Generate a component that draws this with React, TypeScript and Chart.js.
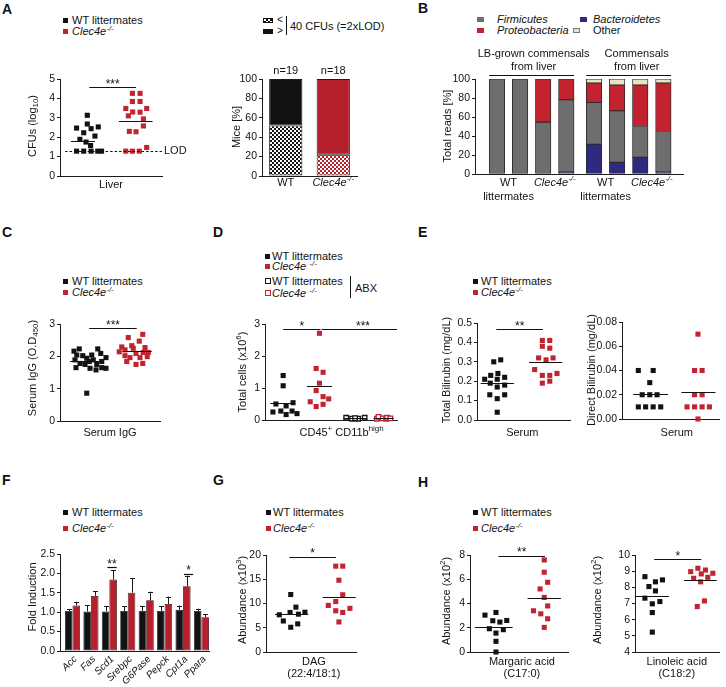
import React, { useEffect, useRef } from 'react';
import { Chart, registerables } from 'chart.js';

Chart.register(...registerables);

const FAMILY = "'Liberation Sans', Arial, Helvetica, sans-serif";
Chart.defaults.font.family = FAMILY;
Chart.defaults.color = '#121212';

const INK = '#121212';
const AX = '#1c1c1c';
const RED = '#c2232e';
const RED_BAR = '#b61f2c';
const GRAY = '#6e6e6e';
const NAVY = '#2d2a80';
const BEIGE = '#e9e2c4';

type Part = { t: string; i?: boolean; sup?: boolean; sub?: boolean };
type Pt = [number, number];
type Span = [number, number];

const KO: Part[] = [{ t: 'Clec4e', i: true }, { t: '-/-', i: true, sup: true }];
const KO_SP: Part[] = [{ t: 'Clec4e ', i: true }, { t: '-/-', i: true, sup: true }];
const WT: Part[] = [{ t: 'WT littermates' }];

// ---------------- DATA ----------------
// A (left): liver CFUs (log10)
const aWtCfu: Pt[] = [[1.07, 3.13], [1.07, 2.68], [0.65, 2.47], [1.5, 2.53], [1.22, 2.44], [0.93, 2.23], [1.37, 2.06], [0.78, 1.89], [1.02, 1.75], [1.2, 1.57], [0.65, 1.28], [0.93, 1.28], [1.22, 1.28], [1.48, 1.28], [1.63, 1.28]];
const aKoCfu: Pt[] = [[2.84, 4.26], [3.14, 4.26], [2.84, 3.84], [3.14, 3.84], [2.58, 3.48], [3.4, 3.48], [2.85, 3.3], [3.14, 3.29], [2.68, 3.1], [3.27, 2.94], [3.27, 2.58], [2.72, 2.3], [2.98, 2.28], [2.58, 1.28], [2.84, 1.28], [3.11, 1.28], [3.4, 1.47]];
const aMeanCfu = [1.8, 2.82];
const aMeanSpan: Span[] = [[0.43, 1.37], [2.31, 3.63]];
const aLod = 1.3;
const aLodSpan: Span = [0.2, 4];
const aSig = { x0: 1.15, x1: 2.98, y: 4.58, label: '***' };

// A (right): mice above/below 40 CFUs
const aMiceGroups = ['WT', 'Clec4e-/-'];
const aMiceBelow = [52, 22];
const aMiceAbove = [48, 78];
const aMiceN = ['n=19', 'n=18'];

// B: 16S phyla
const bSlots = [0.95, 1.95, 2.95, 3.95, 5.15, 6.15, 7.15, 8.15];
const bBacteroidetes = [0, 0, 0, 2, 31.3, 12.3, 17.6, 2.1];
const bFirmicutes = [100, 100, 54.6, 76.2, 44.1, 54.3, 32.4, 42.6];
const bProteobacteria = [0, 0, 45.4, 21.8, 20.4, 27.1, 43.7, 51.1];
const bOther = [0, 0, 0, 0, 4.2, 6.3, 6.3, 4.2];

// C: serum IgG
const cWtIgg: Pt[] = [[0.56, 2.16], [0.77, 2.23], [1.51, 2.23], [0.67, 2.04], [0.91, 2.02], [1.27, 2.04], [1.63, 2.09], [1.84, 1.96], [0.6, 1.89], [1.07, 1.94], [1.33, 1.89], [1.67, 1.84], [0.64, 1.65], [1.0, 1.75], [1.2, 1.63], [1.44, 1.58], [1.67, 1.65], [1.84, 1.63], [1.07, 0.86], [1.47, 1.75], [0.8, 1.78], [1.17, 1.84]];
const cKoIgg: Pt[] = [[2.73, 2.58], [3.31, 2.68], [3.17, 2.47], [2.87, 2.33], [2.37, 2.14], [2.6, 2.2], [2.93, 2.25], [3.4, 2.27], [3.04, 2.09], [3.33, 2.12], [3.53, 2.12], [2.6, 2.02], [3.2, 1.96], [3.49, 1.99], [2.67, 1.84], [3.04, 1.75], [3.31, 1.78], [2.8, 1.96], [2.47, 2.29]];
const cMeans = [1.86, 2.16];
const cMeanSpan: Span[] = [[0.4, 1.73], [2.5, 3.67]];
const cSig = { x0: 1.17, x1: 3.07, y: 2.87, label: '***' };

// D: CD45+ CD11b high cells
const dWt: Pt[] = [[0.55, 1.39], [0.55, 1.07], [0.33, 0.5], [0.64, 0.44], [0.85, 0.54], [0.24, 0.25], [0.48, 0.28], [0.64, 0.17], [0.82, 0.28], [0.97, 0.2]];
const dKo: Pt[] = [[1.65, 2.71], [1.55, 1.61], [1.76, 1.49], [1.65, 1.15], [1.55, 0.92], [1.76, 0.73], [1.93, 0.66], [1.37, 0.57], [1.76, 0.49], [1.55, 0.42]];
const dWtAbx: Pt[] = [[2.46, 0.07], [2.64, 0.04], [2.82, 0.04], [3.02, 0.07], [2.73, 0.06]];
const dKoAbx: Pt[] = [[3.39, 0.04], [3.44, 0.1], [3.57, 0.05], [3.67, 0.04], [3.7, 0.07], [3.8, 0.05]];
const dMeans = [0.52, 1.07, 0.05, 0.05];
const dMeanSpan: Span[] = [[0.16, 0.89], [1.27, 2.03], [2.38, 3.09], [3.29, 3.9]];
const dSigs = [{ x0: 0.55, x1: 1.68, y: 2.83, label: '*' }, { x0: 1.72, x1: 4.0, y: 2.83, label: '***', lx: 2.97 }];

// E: bilirubin
const eWtTot: Pt[] = [[0.72, 0.3], [1.02, 0.31], [0.59, 0.23], [0.9, 0.24], [1.19, 0.22], [0.33, 0.21], [0.87, 0.21], [0.57, 0.19], [1.19, 0.18], [0.87, 0.17], [0.55, 0.13], [1.19, 0.13], [0.87, 0.11], [0.87, 0.04]];
const eKoTot: Pt[] = [[2.81, 0.41], [3.13, 0.41], [2.81, 0.38], [3.13, 0.37], [2.65, 0.32], [2.97, 0.31], [3.27, 0.32], [2.48, 0.26], [2.81, 0.23], [3.13, 0.23], [3.44, 0.24], [2.81, 0.19], [3.13, 0.2]];
const eTotMeans = [0.19, 0.3];
const eTotSpan: Span[] = [[0.16, 1.59], [2.24, 3.67]];
const eTotSig = { x0: 0.83, x1: 2.84, y: 0.467, label: '**' };
const eWtDir: Pt[] = [[0.67, 0.04], [1.28, 0.04], [1.14, 0.03], [0.83, 0.02], [1.14, 0.02], [1.44, 0.02], [0.67, 0.01], [0.97, 0.01], [1.28, 0.01], [1.59, 0.01]];
const eKoDir: Pt[] = [[3.12, 0.07], [2.98, 0.04], [3.29, 0.04], [2.98, 0.02], [3.29, 0.02], [2.67, 0.01], [2.98, 0.01], [3.29, 0.01], [3.59, 0.01], [3.12, 0.0]];
const eDirMeans = [0.021, 0.0225];
const eDirSpan: Span[] = [[0.46, 1.89], [2.44, 3.84]];

// F: hepatic gene expression
const fGenes = ['Acc', 'Fas', 'Scd1', 'Srebpc', 'G6Pase', 'Pepck', 'Cpt1a', 'Ppara'];
const fWt = [1.03, 1.02, 1.02, 1.03, 1.03, 1.03, 1.06, 1.03];
const fWtErr = [0.05, 0.16, 0.14, 0.13, 0.13, 0.13, 0.11, 0.06];
const fKo = [1.17, 1.42, 1.84, 1.5, 1.31, 1.21, 1.67, 0.87];
const fKoErr = [0.1, 0.12, 0.25, 0.37, 0.22, 0.19, 0.27, 0.08];
const fSigs = [{ x0: 1.89, x1: 2.4, y: 2.16, label: '**' }, { x0: 6.05, x1: 6.55, y: 1.99, label: '*' }];

// G: DAG
const gWt: Pt[] = [[1.1, 11.85], [1.33, 9.25], [0.59, 7.67], [1.07, 8.15], [1.44, 7.8], [1.73, 8.2], [0.77, 6.4], [1.41, 5.8], [1.1, 5.1]];
const gKo: Pt[] = [[3.1, 17.7], [3.41, 17.7], [3.24, 14.8], [3.41, 11.8], [3.1, 10.4], [2.77, 9.6], [3.73, 9.0], [3.1, 8.5], [3.41, 8.15], [3.24, 6.2]];
const gMeans = [7.74, 11.4];
const gMeanSpan: Span[] = [[0.4, 1.88], [2.52, 3.99]];
const gSig = { x0: 1.04, x1: 3.11, y: 19.66, label: '*' };

// H: fatty acids
const hWtMar: Pt[] = [[0.61, 3.04], [1.06, 3.26], [0.93, 2.58], [1.5, 2.6], [1.22, 2.47], [0.79, 1.92], [1.36, 1.84], [1.06, 1.56], [1.06, 0.88], [1.06, 0.0]];
const hKoMar: Pt[] = [[3.03, 7.59], [3.03, 6.58], [3.17, 5.75], [2.86, 5.2], [3.03, 4.5], [3.17, 3.8], [2.59, 3.4], [2.89, 3.15], [3.17, 2.74], [3.03, 2.03]];
const hMarMeans = [2.03, 4.49];
const hMarSpan: Span[] = [[0.2, 1.74], [2.35, 3.71]];
const hMarSig = { x0: 1.16, x1: 3.06, y: 7.95, label: '**' };
const hWtLin: Pt[] = [[0.47, 8.66], [0.97, 8.34], [1.3, 8.46], [0.66, 8.05], [0.97, 7.78], [0.47, 7.33], [1.18, 7.12], [0.82, 6.98], [0.82, 6.44], [0.82, 5.23]];
const hKoLin: Pt[] = [[2.64, 8.97], [2.98, 9.18], [3.34, 9.07], [3.69, 8.87], [3.14, 8.83], [2.78, 8.56], [3.45, 8.62], [3.11, 8.34], [3.29, 7.16], [2.95, 6.81]];
const hLinMeans = [7.45, 8.44];
const hLinSpan: Span[] = [[0.05, 1.61], [2.32, 3.87]];
const hLinSig = { x0: 0.91, x1: 3.14, y: 9.75, label: '*' };

// ---------------- HELPERS ----------------
type Box = { x: number; y: number; w: number; h: number };
type Area = { x0: number; x1: number; top: number; bottom: number };

function drawRich(ctx: any, parts: Part[], x: number, y: number, size: number, align = 'center', rot = 0, color = INK) {
  ctx.save();
  ctx.translate(x, y);
  if (rot) ctx.rotate(rot);
  ctx.textBaseline = 'middle';
  ctx.textAlign = 'left';
  ctx.fillStyle = color;
  const font = (p: Part) => `${p.i ? 'italic ' : ''}${p.sup || p.sub ? (size * 0.72).toFixed(1) : size}px ${FAMILY}`;
  const widths = parts.map((p) => { ctx.font = font(p); return ctx.measureText(p.t).width; });
  const total = widths.reduce((a, b) => a + b, 0);
  let cx = align === 'center' ? -total / 2 : align === 'right' ? -total : 0;
  parts.forEach((p, k) => {
    ctx.font = font(p);
    const dy = p.sup ? -size * 0.38 : p.sub ? size * 0.3 : 0;
    ctx.fillText(p.t, cx, dy);
    cx += widths[k];
  });
  ctx.restore();
}

function hl(ctx: any, x0: number, x1: number, y: number) {
  const yy = Math.round(y) + 0.5;
  ctx.beginPath();
  ctx.moveTo(x0, yy);
  ctx.lineTo(x1, yy);
  ctx.stroke();
}

function decor(o: any) {
  return {
    id: 'decor',
    afterDatasetsDraw(chart: any) {
      const { ctx } = chart;
      const xs = chart.scales.x, ys = chart.scales.y;
      const X = (v: number) => xs.getPixelForValue(v);
      const Y = (v: number) => ys.getPixelForValue(v);
      ctx.save();
      ctx.strokeStyle = INK;
      ctx.lineWidth = 1;
      (o.means || []).forEach((m: any) => hl(ctx, X(m.span[0]), X(m.span[1]), Y(m.y)));
      (o.dashed || []).forEach((d: any) => {
        ctx.setLineDash([2.5, 2]);
        hl(ctx, X(d.span[0]), X(d.span[1]), Y(d.y));
        ctx.setLineDash([]);
        if (d.label) drawRich(ctx, [{ t: d.label }], X(d.span[1]) + 2, Y(d.y), 11, 'left');
      });
      (o.sigs || []).forEach((s: any) => {
        ctx.lineWidth = 1.2;
        hl(ctx, X(s.x0), X(s.x1), Y(s.y));
        ctx.fillStyle = INK;
        ctx.font = `12px ${FAMILY}`;
        ctx.textAlign = 'center';
        ctx.textBaseline = 'alphabetic';
        const lx = s.lx !== undefined ? s.lx : (s.x0 + s.x1) / 2;
        ctx.fillText(s.label, X(lx), Y(s.y) + 0.5);
      });
      if (o.extra) o.extra(chart, ctx, X, Y);
      ctx.restore();
    },
    afterDraw(chart: any) {
      const { ctx } = chart;
      const xs = chart.scales.x;
      (o.texts || []).forEach((t: any) => {
        const x = t.x !== undefined ? xs.getPixelForValue(t.x) : t.px - o.box.x;
        const y = t.py - o.box.y;
        drawRich(ctx, t.parts, x, y, t.size || 11, t.align || 'center', t.rot || 0);
      });
    },
  };
}

function layoutOf(box: Box, area: Area) {
  return { padding: { left: 0, top: area.top - box.y, right: box.x + box.w - area.x1, bottom: 0 } };
}

function yScale(box: Box, area: Area, min: number, max: number, step: number, digits: number, extra: any = {}) {
  return {
    type: 'linear', min, max,
    afterFit: (s: any) => { s.width = area.x0 - box.x; },
    ticks: { stepSize: step, autoSkip: false, padding: 2, color: INK, font: { size: 10.5 }, callback: (v: any) => Number(v).toFixed(digits) },
    grid: { display: true, drawOnChartArea: false, drawTicks: true, tickLength: 3, color: AX, lineWidth: 1 },
    border: { display: true, color: AX, width: 1 },
    ...extra,
  };
}

function xLinear(box: Box, area: Area, min: number, max: number, extra: any = {}) {
  return {
    type: 'linear', min, max, offset: false,
    afterFit: (s: any) => { s.height = box.y + box.h - area.bottom; },
    ticks: { display: false },
    grid: { display: false, offset: false },
    border: { display: true, color: AX, width: 1 },
    ...extra,
  };
}

const baseOptions = {
  animation: false,
  responsive: false,
  devicePixelRatio: 1,
  events: [],
};
const noLegend = { legend: { display: false }, tooltip: { enabled: false } };

const yTitle = (parts: Part[], px: number, py: number) => ({ parts, px, py, rot: -Math.PI / 2 });
const abund = (e: string): Part[] => [{ t: 'Abundance (x10' }, { t: e, sup: true }, { t: ')' }];

function scatterConfig(spec: any) {
  const { box, area } = spec;
  return {
    type: 'scatter',
    data: {
      datasets: spec.groups.map((g: any) => ({
        data: g.pts.map(([x, y]: Pt) => ({ x, y })),
        pointStyle: 'rect',
        pointRadius: g.open ? 3.2 : 3.6,
        pointHoverRadius: g.open ? 3.2 : 3.6,
        backgroundColor: g.open ? '#ffffff' : g.color,
        borderColor: g.color,
        borderWidth: g.open ? 1.3 : 0,
        showLine: false,
        clip: false,
      })),
    },
    options: {
      ...baseOptions,
      layout: layoutOf(box, area),
      plugins: noLegend,
      scales: {
        x: xLinear(box, area, 0, 4),
        y: yScale(box, area, spec.yMin, spec.yMax, spec.yStep, spec.digits),
      },
    },
    plugins: [decor(spec)],
  };
}

const mk = (vals: number[], spans: Span[]) => vals.map((y, i) => ({ y, span: spans[i] }));

function checker(c1: string, c2: string, cell = 2) {
  const cv = document.createElement('canvas');
  cv.width = cell * 2;
  cv.height = cell * 2;
  const g = cv.getContext('2d') as any;
  g.fillStyle = c2;
  g.fillRect(0, 0, cell * 2, cell * 2);
  g.fillStyle = c1;
  g.fillRect(0, 0, cell, cell);
  g.fillRect(cell, cell, cell, cell);
  const ctx = document.createElement('canvas').getContext('2d') as any;
  return ctx.createPattern(cv, 'repeat');
}

// ---------------- PANEL BUILDERS ----------------
const aLeftBox = { x: 15, y: 60, w: 185, h: 140 };
const aLeftArea = { x0: 60, x1: 162, top: 79, bottom: 176 };
const buildALeft = () => scatterConfig({
  box: aLeftBox, area: aLeftArea, yMin: 0, yMax: 5, yStep: 1, digits: 0,
  groups: [{ pts: aWtCfu, color: INK }, { pts: aKoCfu, color: RED }],
  means: mk(aMeanCfu, aMeanSpan),
  dashed: [{ y: aLod, span: aLodSpan, label: 'LOD' }],
  sigs: [aSig],
  texts: [{ parts: [{ t: 'Liver' }], x: 2, py: 185 }, yTitle([{ t: 'CFUs (log' }, { t: '10', sub: true }, { t: ')' }], 33, 126)],
});

const aRightBox = { x: 222, y: 60, w: 150, h: 140 };
const aRightArea = { x0: 262, x1: 357, top: 79, bottom: 176 };
const buildARight = () => {
  const box = aRightBox, area = aRightArea;
  const patBlack = checker('#111111', '#ffffff');
  const patRed = checker(RED_BAR, '#ffffff');
  return {
    type: 'bar',
    data: {
      labels: aMiceGroups,
      datasets: [
        { label: '< 40 CFUs', data: aMiceBelow, backgroundColor: [patBlack, patRed], borderColor: AX, borderWidth: 1, borderSkipped: false, stack: 's' },
        { label: '> 40 CFUs', data: aMiceAbove, backgroundColor: [INK, RED_BAR], borderColor: AX, borderWidth: 1, borderSkipped: false, stack: 's' },
      ],
    },
    options: {
      ...baseOptions,
      layout: layoutOf(box, area),
      plugins: noLegend,
      datasets: { bar: { categoryPercentage: 1, barPercentage: 0.7 } },
      scales: {
        x: { type: 'category', stacked: true, offset: true, afterFit: (s: any) => { s.height = box.y + box.h - area.bottom; }, ticks: { display: false }, grid: { display: false }, border: { display: true, color: AX, width: 1 } },
        y: yScale(box, area, 0, 100, 20, 0, { stacked: true }),
      },
    },
    plugins: [decor({
      box,
      extra: (chart: any, ctx: any, X: any, Y: any) => {
        aMiceN.forEach((n, i) => drawRich(ctx, [{ t: n }], X(i), Y(aMiceBelow[i] + aMiceAbove[i]) - 8, 11));
      },
      texts: [
        { parts: [{ t: 'WT' }], x: 0, py: 183 },
        { parts: KO, x: 1, py: 183 },
        yTitle([{ t: 'Mice [%]' }], 237, 127),
      ],
    })],
  };
};

const bBox = { x: 440, y: 45, w: 280, h: 165 };
const bArea = { x0: 475, x1: 683, top: 79, bottom: 174 };
const buildB = () => {
  const box = bBox, area = bArea;
  const ds = (label: string, vals: number[], color: string) => ({
    label,
    data: bSlots.map((x, i) => ({ x, y: vals[i] ? vals[i] : null })),
    backgroundColor: color, borderColor: '#2a2a2a', borderWidth: 0.9, borderSkipped: false,
    barThickness: 15.5, stack: 's',
  });
  const pairMid = (i: number) => (bSlots[i] + bSlots[i + 1]) / 2;
  const headers = [
    { lines: ['LB-grown commensals', 'from liver'], from: 0, to: 3, dx: 2 },
    { lines: ['Commensals', 'from liver'], from: 4, to: 7, dx: 8 },
  ];
  return {
    type: 'bar',
    data: {
      datasets: [
        ds('Bacteroidetes', bBacteroidetes, NAVY),
        ds('Firmicutes', bFirmicutes, GRAY),
        ds('Proteobacteria', bProteobacteria, RED),
        ds('Other', bOther, BEIGE),
      ],
    },
    options: {
      ...baseOptions,
      layout: layoutOf(box, area),
      plugins: noLegend,
      scales: {
        x: xLinear(box, area, 0, 9, { stacked: true }),
        y: yScale(box, area, 0, 100, 20, 0, { stacked: true }),
      },
    },
    plugins: [decor({
      box,
      extra: (chart: any, ctx: any) => {
        const meta = chart.getDatasetMeta(1);
        headers.forEach((h) => {
          const a = meta.data[h.from], b = meta.data[h.to];
          const l = a.x - a.width / 2, r = b.x + b.width / 2;
          ctx.lineWidth = 1.2;
          hl(ctx, l, r, 75 - box.y);
          drawRich(ctx, [{ t: h.lines[0] }], (l + r) / 2 + h.dx, 54 - box.y, 11);
          drawRich(ctx, [{ t: h.lines[1] }], (l + r) / 2 + h.dx, 67 - box.y, 11);
        });
      },
      texts: [
        { parts: [{ t: 'WT' }], x: pairMid(0), py: 183 },
        { parts: [{ t: 'littermates' }], x: pairMid(0), py: 197 },
        { parts: KO, x: pairMid(2), py: 183 },
        { parts: [{ t: 'WT' }], x: pairMid(4), py: 183 },
        { parts: [{ t: 'littermates' }], x: pairMid(4), py: 197 },
        { parts: KO, x: pairMid(6), py: 183 },
        yTitle([{ t: 'Total reads [%]' }], 448, 126),
      ],
    })],
  };
};

const buildC = () => scatterConfig({
  box: { x: 15, y: 300, w: 160, h: 145 }, area: { x0: 60, x1: 160, top: 324, bottom: 421 },
  yMin: 0, yMax: 3, yStep: 1, digits: 0,
  groups: [{ pts: cWtIgg, color: INK }, { pts: cKoIgg, color: RED }],
  means: mk(cMeans, cMeanSpan),
  sigs: [cSig],
  texts: [{ parts: [{ t: 'Serum IgG' }], x: 2, py: 433 }, yTitle([{ t: 'Serum IgG (O.D' }, { t: '450', sub: true }, { t: ')' }], 33, 368)],
});

const buildD = () => scatterConfig({
  box: { x: 235, y: 300, w: 175, h: 145 }, area: { x0: 265, x1: 397, top: 324, bottom: 420 },
  yMin: 0, yMax: 3, yStep: 1, digits: 0,
  groups: [{ pts: dWt, color: INK }, { pts: dKo, color: RED }, { pts: dWtAbx, color: INK, open: true }, { pts: dKoAbx, color: RED, open: true }],
  means: mk(dMeans, dMeanSpan),
  sigs: dSigs,
  texts: [
    { parts: [{ t: 'CD45' }, { t: '+', sup: true }, { t: ' CD11b' }, { t: 'high', sup: true }], x: 2.32, py: 433 },
    yTitle([{ t: 'Total cells (x10' }, { t: '6', sup: true }, { t: ')' }], 243, 372),
  ],
});

const buildELeft = () => scatterConfig({
  box: { x: 435, y: 300, w: 145, h: 145 }, area: { x0: 477, x1: 570, top: 323, bottom: 420 },
  yMin: 0, yMax: 0.5, yStep: 0.1, digits: 1,
  groups: [{ pts: eWtTot, color: INK }, { pts: eKoTot, color: RED }],
  means: mk(eTotMeans, eTotSpan),
  sigs: [eTotSig],
  texts: [{ parts: [{ t: 'Serum' }], x: 1.95, py: 433 }, yTitle([{ t: 'Total Bilirubin (mg/dL)' }], 447, 370)],
});

const buildERight = () => scatterConfig({
  box: { x: 585, y: 300, w: 138, h: 145 }, area: { x0: 622, x1: 720, top: 322, bottom: 419 },
  yMin: 0, yMax: 0.08, yStep: 0.02, digits: 2,
  groups: [{ pts: eWtDir, color: INK }, { pts: eKoDir, color: RED }],
  means: mk(eDirMeans, eDirSpan),
  texts: [{ parts: [{ t: 'Serum' }], x: 2.25, py: 433 }, yTitle([{ t: 'Direct Bilirubin (mg/dL)' }], 592, 370)],
});

const fBox = { x: 15, y: 540, w: 205, h: 145 };
const fArea = { x0: 60, x1: 209, top: 554, bottom: 651 };
const buildF = () => {
  const box = fBox, area = fArea;
  return {
    type: 'bar',
    data: {
      datasets: [
        { label: 'WT littermates', data: fWt.map((y, x) => ({ x, y })), backgroundColor: INK, borderColor: AX, borderWidth: 0.8, borderSkipped: false },
        { label: 'Clec4e-/-', data: fKo.map((y, x) => ({ x, y })), backgroundColor: RED_BAR, borderColor: '#3a0b10', borderWidth: 0.8, borderSkipped: false },
      ],
    },
    options: {
      ...baseOptions,
      layout: layoutOf(box, area),
      plugins: noLegend,
      datasets: { bar: { categoryPercentage: 0.82, barPercentage: 1 } },
      scales: {
        x: {
          type: 'linear', min: -0.68, max: 7.41, offset: false,
          afterBuildTicks: (s: any) => { s.ticks = fGenes.map((_, i) => ({ value: i })); },
          afterFit: (s: any) => { s.height = box.y + box.h - area.bottom; },
          ticks: { display: false },
          grid: { display: false },
          border: { display: true, color: AX, width: 1 },
        },
        y: yScale(box, area, 0, 2.5, 0.5, 1),
      },
    },
    plugins: [decor({
      box,
      sigs: fSigs,
      extra: (chart: any, ctx: any, X: any, Y: any) => {
        const errs = [fWtErr, fKoErr];
        const vals = [fWt, fKo];
        ctx.strokeStyle = '#1a1a1a';
        ctx.lineWidth = 1;
        [0, 1].forEach((d) => {
          chart.getDatasetMeta(d).data.forEach((el: any, i: number) => {
            const top = Y(vals[d][i] + errs[d][i]);
            const x = Math.round(el.x) + 0.5;
            ctx.beginPath();
            ctx.moveTo(x, el.y);
            ctx.lineTo(x, top);
            ctx.stroke();
            hl(ctx, x - 2.5, x + 2.5, top);
          });
        });
      },
      texts: [
        ...fGenes.map((g, i) => ({ parts: [{ t: g, i: true }], x: i + 0.17, py: 657.5, align: 'right', rot: -Math.PI / 4, size: 10 })),
        yTitle([{ t: 'Fold Induction' }], 33, 597),
      ],
    })],
  };
};

const buildG = () => scatterConfig({
  box: { x: 235, y: 540, w: 130, h: 145 }, area: { x0: 266, x1: 356, top: 555, bottom: 652 },
  yMin: 0, yMax: 20, yStep: 5, digits: 0,
  groups: [{ pts: gWt, color: INK }, { pts: gKo, color: RED }],
  means: mk(gMeans, gMeanSpan),
  sigs: [gSig],
  texts: [
    { parts: [{ t: 'DAG' }], x: 2.13, py: 662 },
    { parts: [{ t: '(22:4/18:1)' }], x: 2.13, py: 674 },
    yTitle(abund('3'), 243, 600),
  ],
});

const buildHLeft = () => scatterConfig({
  box: { x: 435, y: 540, w: 140, h: 145 }, area: { x0: 470, x1: 568, top: 555, bottom: 652 },
  yMin: 0, yMax: 8, yStep: 2, digits: 0,
  groups: [{ pts: hWtMar, color: INK }, { pts: hKoMar, color: RED }],
  means: mk(hMarMeans, hMarSpan),
  sigs: [hMarSig],
  texts: [
    { parts: [{ t: 'Margaric acid' }], x: 2.12, py: 662 },
    { parts: [{ t: '(C17:0)' }], x: 2.12, py: 674 },
    yTitle(abund('2'), 447, 601),
  ],
});

const buildHRight = () => scatterConfig({
  box: { x: 585, y: 540, w: 138, h: 145 }, area: { x0: 635, x1: 720, top: 555, bottom: 652 },
  yMin: 4, yMax: 10, yStep: 1, digits: 0,
  groups: [{ pts: hWtLin, color: INK }, { pts: hKoLin, color: RED }],
  means: mk(hLinMeans, hLinSpan),
  sigs: [hLinSig],
  texts: [
    { parts: [{ t: 'Linoleic acid' }], x: 1.98, py: 662 },
    { parts: [{ t: '(C18:2)' }], x: 1.98, py: 674 },
    yTitle(abund('2'), 598, 600),
  ],
});

const PANELS = [
  { key: 'aL', box: aLeftBox, build: buildALeft },
  { key: 'aR', box: aRightBox, build: buildARight },
  { key: 'b', box: bBox, build: buildB },
  { key: 'c', box: { x: 15, y: 300, w: 160, h: 145 }, build: buildC },
  { key: 'd', box: { x: 235, y: 300, w: 175, h: 145 }, build: buildD },
  { key: 'eL', box: { x: 435, y: 300, w: 145, h: 145 }, build: buildELeft },
  { key: 'eR', box: { x: 585, y: 300, w: 138, h: 145 }, build: buildERight },
  { key: 'f', box: fBox, build: buildF },
  { key: 'g', box: { x: 235, y: 540, w: 130, h: 145 }, build: buildG },
  { key: 'hL', box: { x: 435, y: 540, w: 140, h: 145 }, build: buildHLeft },
  { key: 'hR', box: { x: 585, y: 540, w: 138, h: 145 }, build: buildHRight },
];

// ---------------- COMPONENTS ----------------
function ChartBox({ box, build }: { box: Box; build: () => any }) {
  const ref = useRef<HTMLCanvasElement | null>(null);
  useEffect(() => {
    if (!ref.current) return;
    const chart = new Chart(ref.current, build());
    return () => chart.destroy();
  }, []);
  return <canvas ref={ref} width={box.w} height={box.h} style={{ position: 'absolute', left: box.x, top: box.y, width: box.w, height: box.h }} />;
}

function Rich({ parts }: { parts: Part[] }) {
  return (
    <>
      {parts.map((p, i) => (
        <span key={i} style={{
          fontStyle: p.i ? 'italic' : 'normal',
          fontSize: p.sup || p.sub ? '0.72em' : undefined,
          position: p.sup || p.sub ? 'relative' : undefined,
          top: p.sup ? '-0.45em' : p.sub ? '0.3em' : undefined,
        }}>{p.t}</span>
      ))}
    </>
  );
}

function Label({ x, y, parts, size = 11, bold = false }: { x: number; y: number; parts: Part[]; size?: number; bold?: boolean }) {
  return (
    <div style={{ position: 'absolute', left: x, top: y - size / 2, fontSize: size, lineHeight: `${size}px`, whiteSpace: 'nowrap', fontWeight: bold ? 'bold' : 'normal' }}>
      <Rich parts={parts} />
    </div>
  );
}

function Swatch({ x, y, w = 5, h = 5, color, open = false, bg, border }: any) {
  return (
    <div style={{
      position: 'absolute', left: x, top: y - h / 2, width: w, height: h, boxSizing: 'border-box',
      background: bg ?? (open ? '#fff' : color),
      border: open ? `1.3px solid ${color}` : border,
    }} />
  );
}

function TwoRowLegend({ sx, tx, y1, y2 }: { sx: number; tx: number; y1: number; y2: number }) {
  return (
    <>
      <Swatch x={sx} y={y1} color={INK} />
      <Label x={tx} y={y1} parts={WT} />
      <Swatch x={sx} y={y2} color={RED} />
      <Label x={tx} y={y2} parts={KO} />
    </>
  );
}

const LETTERS = [
  { t: 'A', x: 2, y: 2 }, { t: 'B', x: 418, y: 1 }, { t: 'C', x: 2, y: 225 }, { t: 'D', x: 213, y: 225 },
  { t: 'E', x: 418, y: 225 }, { t: 'F', x: 2, y: 473 }, { t: 'G', x: 213, y: 473 }, { t: 'H', x: 418, y: 475 },
];

const CHECK_CSS = 'repeating-conic-gradient(#111 0% 25%, #fff 0% 50%) 0 0 / 4px 4px';

export default function App() {
  return (
    <div style={{ position: 'absolute', left: 0, top: 0, width: 726, height: 687, background: '#ffffff', overflow: 'hidden', fontFamily: FAMILY, color: INK }}>
      {LETTERS.map((l) => (
        <div key={l.t} style={{ position: 'absolute', left: l.x, top: l.y, fontSize: 14, lineHeight: '14px', fontWeight: 'bold' }}>{l.t}</div>
      ))}

      {/* A legends */}
      <TwoRowLegend sx={63} tx={72} y1={20} y2={31} />
      <Swatch x={263} y={20} w={10} h={5} bg={CHECK_CSS} border="1px solid #111" />
      <Label x={277} y={20} parts={[{ t: '<' }]} size={10} />
      <Swatch x={263} y={31} w={10} h={5} color={INK} />
      <Label x={277} y={31} parts={[{ t: '>' }]} size={10} />
      <div style={{ position: 'absolute', left: 286, top: 16, width: 1.3, height: 19, background: INK }} />
      <Label x={290} y={26} parts={[{ t: '40 CFUs (=2xLOD)' }]} />

      {/* B legend */}
      <Swatch x={477} y={19} w={7} h={5} color={GRAY} />
      <Label x={497} y={19} parts={[{ t: 'Firmicutes', i: true }]} />
      <Swatch x={477} y={30} w={7} h={5} color={RED} />
      <Label x={497} y={30} parts={[{ t: 'Proteobacteria', i: true }]} />
      <Swatch x={580} y={19} w={7} h={5} color={NAVY} />
      <Label x={593} y={19} parts={[{ t: 'Bacteroidetes', i: true }]} />
      <Swatch x={573} y={30} w={7} h={5} color={BEIGE} border="0.5px solid #777" />
      <Label x={593} y={30} parts={[{ t: 'Other' }]} />

      {/* C legend */}
      <TwoRowLegend sx={63} tx={72} y1={281} y2={292} />

      {/* D legend */}
      <Swatch x={265} y={256} color={INK} />
      <Label x={272} y={256} parts={WT} />
      <Swatch x={265} y={266} color={RED} />
      <Label x={272} y={266} parts={KO_SP} />
      <Swatch x={264.5} y={281} w={6} h={6} color={INK} open />
      <Label x={272} y={281} parts={WT} />
      <Swatch x={264.5} y={293} w={6} h={6} color={RED} open />
      <Label x={272} y={293} parts={KO_SP} />
      <div style={{ position: 'absolute', left: 350, top: 276, width: 1.3, height: 22, background: INK }} />
      <Label x={355} y={288} parts={[{ t: 'ABX' }]} />

      {/* E legend */}
      <TwoRowLegend sx={473} tx={481} y1={281} y2={292} />

      {/* F, G, H legends */}
      <TwoRowLegend sx={63} tx={72} y1={512} y2={528} />
      <TwoRowLegend sx={266} tx={273} y1={512} y2={528} />
      <TwoRowLegend sx={473} tx={481} y1={512} y2={528} />

      {PANELS.map((p) => <ChartBox key={p.key} box={p.box} build={p.build} />)}
    </div>
  );
}
